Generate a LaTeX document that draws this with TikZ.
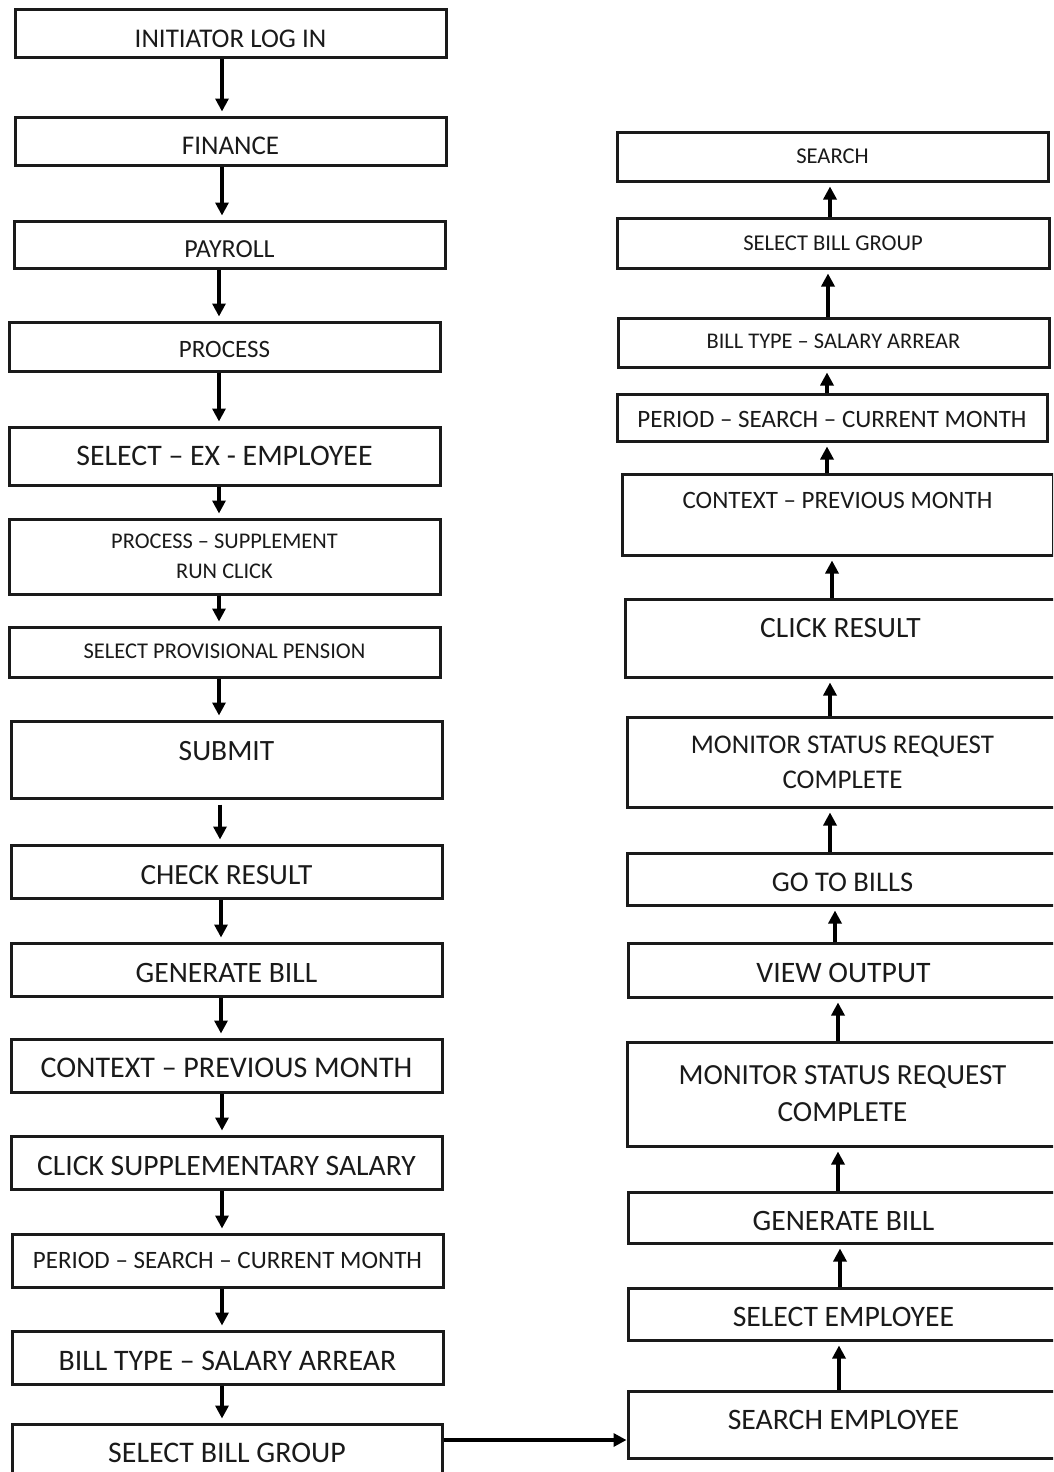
\documentclass[tikz,border=0pt]{standalone}
\usepackage{fontspec}
\setmainfont{Carlito}
\usetikzlibrary{arrows.meta}
\definecolor{ink}{HTML}{1A1A1A}

\tikzset{
  box/.style={rectangle, draw=ink, line width=3pt, fill=white, inner sep=0pt, text=ink},
  % font size (pt) and vertical offset of the single text line inside its box (px, down is positive)
  txt/.code 2 args={%
    \pgfmathsetmacro\tbH{0.632*#1+max(2*(#2),0)}%
    \pgfmathsetmacro\tbD{max(-2*(#2),0)}%
    \edef\tbSet{\noexpand\tikzset{text height=\tbH pt, text depth=\tbD pt}}\tbSet
    \tikzset{font=\fontsize{#1}{#1}\selectfont}},
  multi/.style 2 args={font=\fontsize{#1}{#2}\selectfont, align=center},
  arr/.style={draw=black, line width=3.2pt, -{Triangle[width=13pt,length=13pt]}, shorten >=4pt}
}

\begin{document}
\begin{tikzpicture}[x=1pt, y=-1pt]
\useasboundingbox (0,0) rectangle (1053,1472);
\clip (0,0) rectangle (1053,1472);
\fill[white] (0,0) rectangle (1053,1472);

% ---------- left column: top to bottom ----------
\node[box, minimum width=431pt, minimum height=48pt, txt={27}{4.5}] (l1) at (230.5,34) {INITIATOR LOG IN};
\node[box, minimum width=431pt, minimum height=48pt, txt={27}{5}] (l2) at (230.5,141) {FINANCE};
\node[box, minimum width=431pt, minimum height=47pt, txt={26}{4.5}] (l3) at (229.5,244.5) {PAYROLL};
\node[box, minimum width=431pt, minimum height=49pt, txt={25}{3.5}] (l4) at (224.5,346.5) {PROCESS};
\node[box, minimum width=431pt, minimum height=58pt, txt={29.8}{0}] (l5) at (224.5,456) {SELECT – EX - EMPLOYEE};
\node[box, minimum width=431pt, minimum height=75pt, multi={22.4}{30}] (l6) at (224.5,556.5) {PROCESS – SUPPLEMENT\\RUN CLICK};
\node[box, minimum width=431pt, minimum height=50pt, txt={22.5}{-1}] (l7) at (224.5,652) {SELECT PROVISIONAL PENSION};
\node[box, minimum width=431pt, minimum height=77pt, txt={29.5}{-8.5}] (l8) at (226.5,759.5) {SUBMIT};
\node[box, minimum width=431pt, minimum height=53pt, txt={29.3}{3.5}] (l9) at (226.5,871.5) {CHECK RESULT};
\node[box, minimum width=431pt, minimum height=53pt, txt={29.6}{4}] (l10) at (226.5,969.5) {GENERATE BILL};
\node[box, minimum width=431pt, minimum height=53pt, txt={30}{3}] (l11) at (226.5,1065.5) {CONTEXT – PREVIOUS MONTH};
\node[box, minimum width=431pt, minimum height=53pt, txt={29.6}{3.5}] (l12) at (226.5,1162.5) {CLICK SUPPLEMENTARY SALARY};
\node[box, minimum width=431pt, minimum height=53pt, txt={25}{0}] (l13) at (227.5,1260.5) {PERIOD – SEARCH – CURRENT MONTH};
\node[box, minimum width=431pt, minimum height=53pt, txt={29.8}{3.5}] (l14) at (227.5,1357.5) {BILL TYPE – SALARY ARREAR};
\node[box, minimum width=430pt, minimum height=54pt, txt={29.9}{2}] (l15) at (227,1451) {SELECT BILL GROUP};

% ---------- right column: bottom to top ----------
\node[box, minimum width=431pt, minimum height=49pt, txt={22.6}{0}] (r1) at (832.5,156.5) {SEARCH};
\node[box, minimum width=432pt, minimum height=50pt, txt={22.6}{0}] (r2) at (833,243) {SELECT BILL GROUP};
\node[box, minimum width=431pt, minimum height=49pt, txt={22.4}{-1}] (r3) at (833.5,342.5) {BILL TYPE – SALARY ARREAR};
\node[box, minimum width=430pt, minimum height=47pt, txt={25}{2}] (r4) at (832,417.5) {PERIOD – SEARCH – CURRENT MONTH};
\node[box, minimum width=431pt, minimum height=81pt, txt={25}{-14}] (r5) at (837.5,514.5) {CONTEXT – PREVIOUS MONTH};
\node[box, minimum width=431pt, minimum height=78pt, txt={29.5}{-10}] (r6) at (840.5,638) {CLICK RESULT};
\node[box, minimum width=431pt, minimum height=90pt, multi={27}{35}] (r7) at (842.5,762) {MONITOR STATUS REQUEST\\COMPLETE};
\node[box, minimum width=431pt, minimum height=52pt, txt={28.5}{3.5}] (r8) at (842.5,879) {GO TO BILLS};
\node[box, minimum width=431pt, minimum height=54pt, txt={29.7}{3}] (r9) at (843.5,970) {VIEW OUTPUT};
\node[box, minimum width=431pt, minimum height=104pt, multi={29.2}{37}] (r10) at (842.5,1094) {MONITOR STATUS REQUEST\\COMPLETE};
\node[box, minimum width=431pt, minimum height=51pt, txt={29.6}{3.5}] (r11) at (843.5,1217.5) {GENERATE BILL};
\node[box, minimum width=431pt, minimum height=52pt, txt={29.7}{3.5}] (r12) at (843.5,1314) {SELECT EMPLOYEE};
\node[box, minimum width=431pt, minimum height=67pt, txt={29.7}{-4.5}] (r13) at (843.5,1424.5) {SEARCH EMPLOYEE};

% ---------- connectors down the left column ----------
\draw[arr] (l1.south -| 222,0) -- (l2.north -| 222,0);
\draw[arr] (l2.south -| 222,0) -- (l3.north -| 222,0);
\draw[arr] (l3.south -| 219,0) -- (l4.north -| 219,0);
\draw[arr] (l4.south -| 219,0) -- (l5.north -| 219,0);
\draw[arr] (l5.south -| 219,0) -- (l6.north -| 219,0);
\draw[arr] (l6.south -| 219,0) -- (l7.north -| 219,0);
\draw[arr] (l7.south -| 219,0) -- (l8.north -| 219,0);
\draw[arr, shorten <=5pt] (l8.south -| 220,0) -- (l9.north -| 220,0);
\draw[arr] (l9.south -| 221,0) -- (l10.north -| 221,0);
\draw[arr] (l10.south -| 221,0) -- (l11.north -| 221,0);
\draw[arr] (l11.south -| 222,0) -- (l12.north -| 222,0);
\draw[arr] (l12.south -| 222,0) -- (l13.north -| 222,0);
\draw[arr] (l13.south -| 222,0) -- (l14.north -| 222,0);
\draw[arr] (l14.south -| 222,0) -- (l15.north -| 222,0);

% ---------- across to the right column ----------
\draw[arr, shorten >=0pt] (l15.east |- 0,1440) -- (r13.west |- 0,1440);

% ---------- connectors up the right column ----------
\draw[arr] (r13.north -| 839,0) -- (r12.south -| 839,0);
\draw[arr] (r12.north -| 840,0) -- (r11.south -| 840,0);
\draw[arr] (r11.north -| 838,0) -- (r10.south -| 838,0);
\draw[arr] (r10.north -| 838,0) -- (r9.south -| 838,0);
\draw[arr] (r9.north -| 835,0) -- (r8.south -| 835,0);
\draw[arr] (r8.north -| 830,0) -- (r7.south -| 830,0);
\draw[arr] (r7.north -| 830,0) -- (r6.south -| 830,0);
\draw[arr] (r6.north -| 832,0) -- (r5.south -| 832,0);
\draw[arr] (r5.north -| 827,0) -- (r4.south -| 827,0);
\draw[arr] (r4.north -| 827,0) -- (r3.south -| 827,0);
\draw[arr] (r3.north -| 828,0) -- (r2.south -| 828,0);
\draw[arr] (r2.north -| 830,0) -- (r1.south -| 830,0);
\end{tikzpicture}
\end{document}
